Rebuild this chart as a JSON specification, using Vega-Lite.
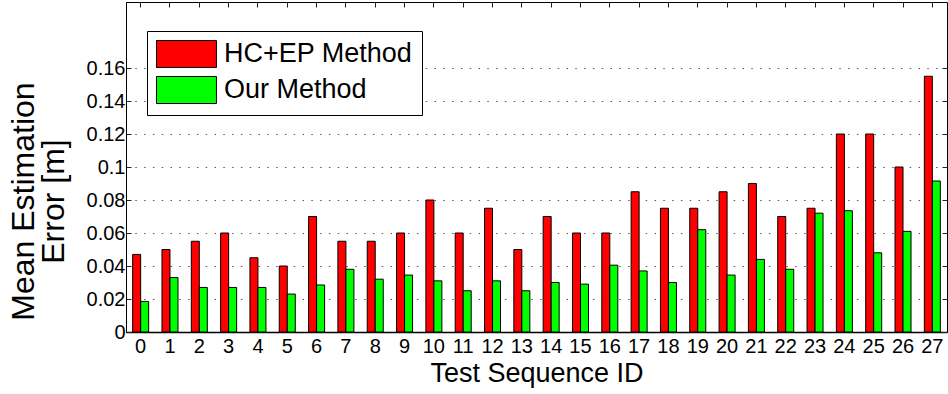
{
  "$schema": "https://vega.github.io/schema/vega-lite/v6.json",
  "width": 821,
  "height": 330,
  "autosize": {"type": "none"},
  "padding": {"left": 126, "top": 2, "right": 1, "bottom": 62},
  "background": "white",
  "config": {
    "view": {"stroke": "black", "strokeWidth": 1},
    "font": "Liberation Sans",
    "axis": {
      "labelFont": "Liberation Sans",
      "titleFont": "Liberation Sans",
      "labelColor": "black",
      "titleColor": "black",
      "titleFontWeight": "normal",
      "domainColor": "black",
      "tickColor": "#222222",
      "labelFontSize": 20,
      "titleFontSize": 27
    }
  },
  "data": {
    "values": [
      {"id": 0, "method": "HC+EP Method", "value": 0.047},
      {"id": 1, "method": "HC+EP Method", "value": 0.05},
      {"id": 2, "method": "HC+EP Method", "value": 0.055},
      {"id": 3, "method": "HC+EP Method", "value": 0.06},
      {"id": 4, "method": "HC+EP Method", "value": 0.045},
      {"id": 5, "method": "HC+EP Method", "value": 0.04},
      {"id": 6, "method": "HC+EP Method", "value": 0.07},
      {"id": 7, "method": "HC+EP Method", "value": 0.055},
      {"id": 8, "method": "HC+EP Method", "value": 0.055},
      {"id": 9, "method": "HC+EP Method", "value": 0.06},
      {"id": 10, "method": "HC+EP Method", "value": 0.08},
      {"id": 11, "method": "HC+EP Method", "value": 0.06},
      {"id": 12, "method": "HC+EP Method", "value": 0.075},
      {"id": 13, "method": "HC+EP Method", "value": 0.05},
      {"id": 14, "method": "HC+EP Method", "value": 0.07},
      {"id": 15, "method": "HC+EP Method", "value": 0.06},
      {"id": 16, "method": "HC+EP Method", "value": 0.06},
      {"id": 17, "method": "HC+EP Method", "value": 0.085},
      {"id": 18, "method": "HC+EP Method", "value": 0.075},
      {"id": 19, "method": "HC+EP Method", "value": 0.075},
      {"id": 20, "method": "HC+EP Method", "value": 0.085},
      {"id": 21, "method": "HC+EP Method", "value": 0.09},
      {"id": 22, "method": "HC+EP Method", "value": 0.07},
      {"id": 23, "method": "HC+EP Method", "value": 0.075},
      {"id": 24, "method": "HC+EP Method", "value": 0.12},
      {"id": 25, "method": "HC+EP Method", "value": 0.12},
      {"id": 26, "method": "HC+EP Method", "value": 0.1},
      {"id": 27, "method": "HC+EP Method", "value": 0.155},
      {"id": 0, "method": "Our Method", "value": 0.0185},
      {"id": 1, "method": "Our Method", "value": 0.033},
      {"id": 2, "method": "Our Method", "value": 0.027},
      {"id": 3, "method": "Our Method", "value": 0.027},
      {"id": 4, "method": "Our Method", "value": 0.027},
      {"id": 5, "method": "Our Method", "value": 0.023},
      {"id": 6, "method": "Our Method", "value": 0.0285},
      {"id": 7, "method": "Our Method", "value": 0.038},
      {"id": 8, "method": "Our Method", "value": 0.032},
      {"id": 9, "method": "Our Method", "value": 0.0345},
      {"id": 10, "method": "Our Method", "value": 0.031},
      {"id": 11, "method": "Our Method", "value": 0.025},
      {"id": 12, "method": "Our Method", "value": 0.031},
      {"id": 13, "method": "Our Method", "value": 0.025},
      {"id": 14, "method": "Our Method", "value": 0.03},
      {"id": 15, "method": "Our Method", "value": 0.029},
      {"id": 16, "method": "Our Method", "value": 0.0405},
      {"id": 17, "method": "Our Method", "value": 0.037},
      {"id": 18, "method": "Our Method", "value": 0.03},
      {"id": 19, "method": "Our Method", "value": 0.062},
      {"id": 20, "method": "Our Method", "value": 0.0345},
      {"id": 21, "method": "Our Method", "value": 0.044},
      {"id": 22, "method": "Our Method", "value": 0.038},
      {"id": 23, "method": "Our Method", "value": 0.072},
      {"id": 24, "method": "Our Method", "value": 0.0735},
      {"id": 25, "method": "Our Method", "value": 0.048},
      {"id": 26, "method": "Our Method", "value": 0.061},
      {"id": 27, "method": "Our Method", "value": 0.0915}
    ]
  },
  "layer": [
    {
      "mark": {"type": "bar", "stroke": "black", "strokeWidth": 1},
      "encoding": {
        "x": {
          "field": "id",
          "type": "ordinal",
          "scale": {"paddingInner": 0.454, "paddingOuter": 0.227},
          "axis": {
            "orient": "bottom",
            "title": "Test Sequence ID",
            "labelAngle": 0,
            "tickSize": -5,
            "labelPadding": 9,
            "titlePadding": 4,
            "domainWidth": 1.5
          }
        },
        "xOffset": {"field": "method", "type": "nominal", "scale": {"paddingInner": 0, "paddingOuter": 0}},
        "y": {
          "field": "value",
          "type": "quantitative",
          "scale": {"domain": [0, 0.2], "nice": false},
          "axis": {
            "orient": "left",
            "title": ["Mean Estimation", "Error [m]"],
            "titleFontSize": 32,
            "titleLineHeight": 30,
            "titleBaseline": "middle",
            "titleX": -103,
            "titleY": 199,
            "values": [0, 0.02, 0.04, 0.06, 0.08, 0.1, 0.12, 0.14, 0.16],
            "format": "~g",
            "tickSize": -5,
            "labelPadding": 6,
            "grid": true,
            "gridColor": "#555555",
            "gridDash": [1.5, 7.3],
            "gridWidth": 1
          }
        },
        "color": {
          "field": "method",
          "type": "nominal",
          "scale": {"domain": ["HC+EP Method", "Our Method"], "range": ["#ff0000", "#00ff00"]},
          "legend": {
            "title": null,
            "orient": "none",
            "legendX": 21,
            "legendY": 29,
            "strokeColor": "black",
            "fillColor": "white",
            "padding": 9,
            "symbolType": "M-1,-1H3.44V1H-1Z",
            "symbolSize": 729,
            "symbolStrokeColor": "black",
            "symbolStrokeWidth": 1,
            "symbolOpacity": 1,
            "labelFont": "Liberation Sans",
            "labelFontSize": 27,
            "labelColor": "black",
            "labelOffset": 40,
            "labelLimit": 400,
            "rowPadding": 4
          }
        }
      }
    },
    {
      "mark": {"type": "bar", "opacity": 0},
      "encoding": {
        "x": {
          "field": "id",
          "type": "ordinal",
          "axis": {"orient": "top", "title": null, "labels": false, "tickSize": -5, "domain": false}
        },
        "y": {
          "field": "value",
          "type": "quantitative",
          "axis": {
            "orient": "right",
            "title": null,
            "labels": false,
            "values": [0, 0.02, 0.04, 0.06, 0.08, 0.1, 0.12, 0.14, 0.16],
            "tickSize": -5,
            "domain": false
          }
        }
      }
    }
  ],
  "resolve": {"axis": {"x": "independent", "y": "independent"}}
}
